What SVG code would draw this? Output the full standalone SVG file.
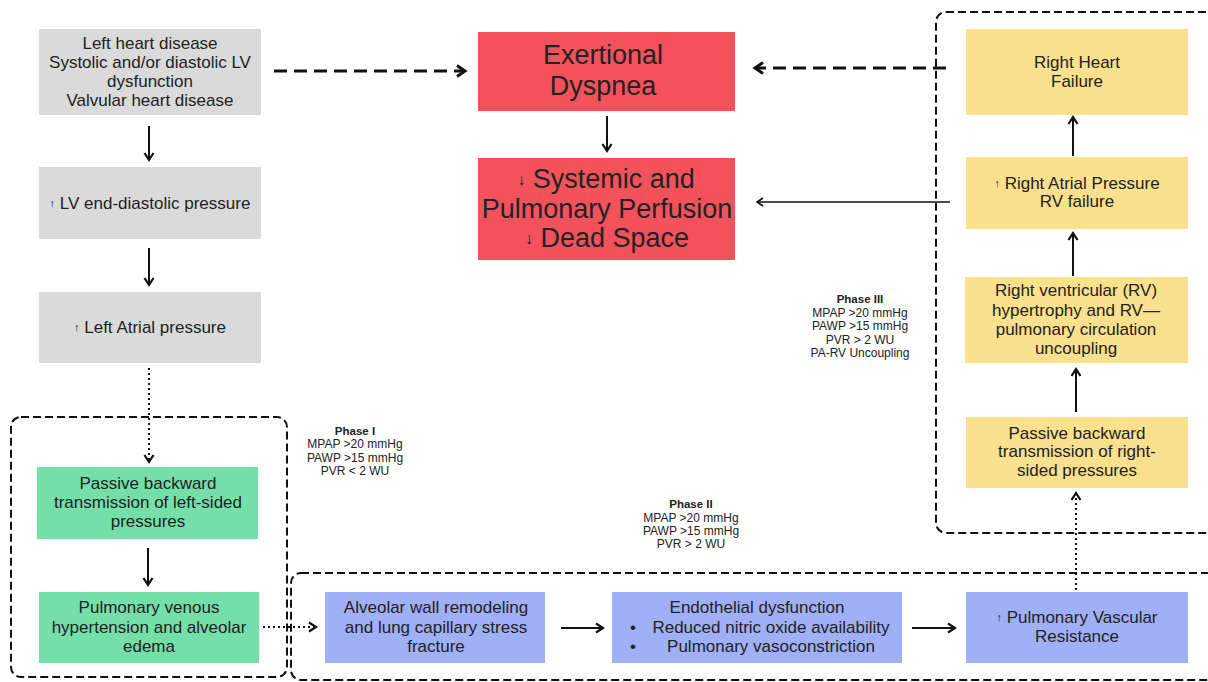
<svg xmlns="http://www.w3.org/2000/svg" width="1208" height="682" viewBox="0 0 1208 682">
<style>
text{font-family:"Liberation Sans","Noto Sans",Arial,sans-serif;fill:#222;text-anchor:middle;dominant-baseline:central}
.t{font-size:17px}
.big{font-size:27px}
.ph{font-size:12px}
.phb{font-size:11.5px;font-weight:bold}
.ar{font-size:11px}
.gray{fill:#dadada}
.red{fill:#f3525c}
.green{fill:#74dfa9}
.blue{fill:#9fb0f7}
.yellow{fill:#fbe08d}
.frame{fill:none;stroke:#111;stroke-width:2;stroke-dasharray:8 4}
.c{fill:none;stroke:#111}
.s{stroke-width:2;marker-end:url(#ah)}
.thin{stroke-width:1.5;marker-end:url(#ah2)}
.dash{stroke-width:3;stroke-dasharray:13 7;marker-end:url(#ah3)}
.dot{stroke-width:2;stroke-dasharray:2 3;marker-end:url(#ah)}
</style>
<defs>
<marker id="ah" markerUnits="userSpaceOnUse" markerWidth="14" markerHeight="14" refX="10" refY="7" orient="auto">
<path d="M3,2.5 L10,7 L3,11.5" fill="none" stroke="#111" stroke-width="2.2"/>
</marker>
<marker id="ah2" markerUnits="userSpaceOnUse" markerWidth="14" markerHeight="14" refX="10" refY="7" orient="auto">
<path d="M4,3 L10,7 L4,11" fill="none" stroke="#111" stroke-width="1.6"/>
</marker>
<marker id="ah3" markerUnits="userSpaceOnUse" markerWidth="16" markerHeight="16" refX="12" refY="8" orient="auto">
<path d="M4,2.5 L12,8 L4,13.5" fill="none" stroke="#111" stroke-width="3"/>
</marker>
</defs>

<g id="frames">
<rect id="phase1-frame" class="frame" x="11" y="417" width="276" height="260" rx="10"/>
<rect id="phase2-frame" class="frame" x="291" y="573" width="930" height="107" rx="10"/>
<rect id="phase3-frame" class="frame" x="936" y="12" width="280" height="521" rx="10"/>
</g>

<g id="connectors">
<line class="c dash" x1="274" y1="71" x2="465" y2="71"/>
<line class="c dash" x1="946" y1="68" x2="755" y2="68"/>
<line class="c s" x1="607" y1="116" x2="607" y2="151"/>
<line class="c thin" x1="950" y1="202" x2="757" y2="202"/>
<line class="c s" x1="149" y1="126" x2="149" y2="160"/>
<line class="c s" x1="149" y1="248" x2="149" y2="285"/>
<line class="c dot" x1="149" y1="368" x2="149" y2="462"/>
<line class="c s" x1="148" y1="548" x2="148" y2="585"/>
<line class="c dot" x1="263" y1="627" x2="316" y2="627"/>
<line class="c s" x1="561" y1="628" x2="603" y2="628"/>
<line class="c s" x1="912" y1="628" x2="955" y2="628"/>
<line class="c dot" x1="1076" y1="590" x2="1076" y2="493"/>
<line class="c s" x1="1076" y1="412" x2="1076" y2="369"/>
<line class="c s" x1="1073" y1="276" x2="1073" y2="233"/>
<line class="c s" x1="1073" y1="156" x2="1073" y2="117"/>
</g>

<g id="n-left-heart">
<rect class="gray" x="39" y="29" width="222" height="86"/>
<text class="t" x="150" y="43">Left heart disease</text>
<text class="t" x="150" y="62">Systolic and/or diastolic LV</text>
<text class="t" x="150" y="81">dysfunction</text>
<text class="t" x="150" y="100">Valvular heart disease</text>
</g>
<g id="n-lvedp">
<rect class="gray" x="39" y="167" width="222" height="72"/>
<text class="t" x="150" y="203"><tspan class="ar">↑</tspan> LV end-diastolic pressure</text>
</g>
<g id="n-lap">
<rect class="gray" x="39" y="292" width="222" height="71"/>
<text class="t" x="150" y="327"><tspan class="ar">↑</tspan> Left Atrial pressure</text>
</g>

<g id="n-passive-left">
<rect class="green" x="37" y="467" width="221" height="72"/>
<text class="t" x="148" y="483">Passive backward</text>
<text class="t" x="148" y="502">transmission of left-sided</text>
<text class="t" x="148" y="521">pressures</text>
</g>
<g id="n-pvh">
<rect class="green" x="39" y="592" width="220" height="71"/>
<text class="t" x="149" y="607">Pulmonary venous</text>
<text class="t" x="149" y="627">hypertension and alveolar</text>
<text class="t" x="149" y="646">edema</text>
</g>

<g id="n-alveolar">
<rect class="blue" x="325" y="592" width="220" height="71"/>
<text class="t" x="436" y="607">Alveolar wall remodeling</text>
<text class="t" x="436" y="627">and lung capillary stress</text>
<text class="t" x="436" y="646">fracture</text>
</g>
<g id="n-endothelial">
<rect class="blue" x="612" y="592" width="290" height="71"/>
<text class="t" x="757" y="607">Endothelial dysfunction</text>
<text class="t" x="633" y="627">•</text>
<text class="t" x="771" y="627">Reduced nitric oxide availability</text>
<text class="t" x="633" y="646">•</text>
<text class="t" x="771" y="646">Pulmonary vasoconstriction</text>
</g>
<g id="n-pvr">
<rect class="blue" x="966" y="592" width="222" height="71"/>
<text class="t" x="1077" y="617"><tspan class="ar">↑</tspan> Pulmonary Vascular</text>
<text class="t" x="1077" y="636">Resistance</text>
</g>

<g id="n-passive-right">
<rect class="yellow" x="966" y="417" width="222" height="71"/>
<text class="t" x="1077" y="433">Passive backward</text>
<text class="t" x="1077" y="451">transmission of right-</text>
<text class="t" x="1077" y="470">sided pressures</text>
</g>
<g id="n-rv-hypertrophy">
<rect class="yellow" x="965" y="277" width="223" height="86"/>
<text class="t" x="1076" y="290">Right ventricular (RV)</text>
<text class="t" x="1076" y="310">hypertrophy and RV—</text>
<text class="t" x="1076" y="329">pulmonary circulation</text>
<text class="t" x="1076" y="348">uncoupling</text>
</g>
<g id="n-rap">
<rect class="yellow" x="966" y="157" width="222" height="72"/>
<text class="t" x="1077" y="183"><tspan class="ar">↑</tspan> Right Atrial Pressure</text>
<text class="t" x="1077" y="201">RV failure</text>
</g>
<g id="n-rhf">
<rect class="yellow" x="966" y="29" width="222" height="86"/>
<text class="t" x="1077" y="62">Right Heart</text>
<text class="t" x="1077" y="81">Failure</text>
</g>

<g id="n-dyspnea">
<rect class="red" x="478" y="32" width="257" height="79"/>
<text class="big" x="603" y="55">Exertional</text>
<text class="big" x="603" y="86">Dyspnea</text>
</g>
<g id="n-perfusion">
<rect class="red" x="478" y="158" width="257" height="102"/>
<text class="big" x="606" y="179"><tspan font-size="16px">↓</tspan> Systemic and</text>
<text class="big" x="607" y="209">Pulmonary Perfusion</text>
<text class="big" x="607" y="238"><tspan font-size="16px">↓</tspan> Dead Space</text>
</g>

<g id="phase1-label">
<text class="phb" x="355" y="431">Phase I</text>
<text class="ph" x="355" y="444">MPAP &gt;20 mmHg</text>
<text class="ph" x="355" y="458">PAWP &gt;15 mmHg</text>
<text class="ph" x="355" y="471">PVR &lt; 2 WU</text>
</g>
<g id="phase2-label">
<text class="phb" x="691" y="504">Phase II</text>
<text class="ph" x="691" y="518">MPAP &gt;20 mmHg</text>
<text class="ph" x="691" y="531">PAWP &gt;15 mmHg</text>
<text class="ph" x="691" y="544">PVR &gt; 2 WU</text>
</g>
<g id="phase3-label">
<text class="phb" x="860" y="299">Phase III</text>
<text class="ph" x="860" y="313">MPAP &gt;20 mmHg</text>
<text class="ph" x="860" y="326">PAWP &gt;15 mmHg</text>
<text class="ph" x="860" y="340">PVR &gt; 2 WU</text>
<text class="ph" x="860" y="353">PA-RV Uncoupling</text>
</g>
</svg>
